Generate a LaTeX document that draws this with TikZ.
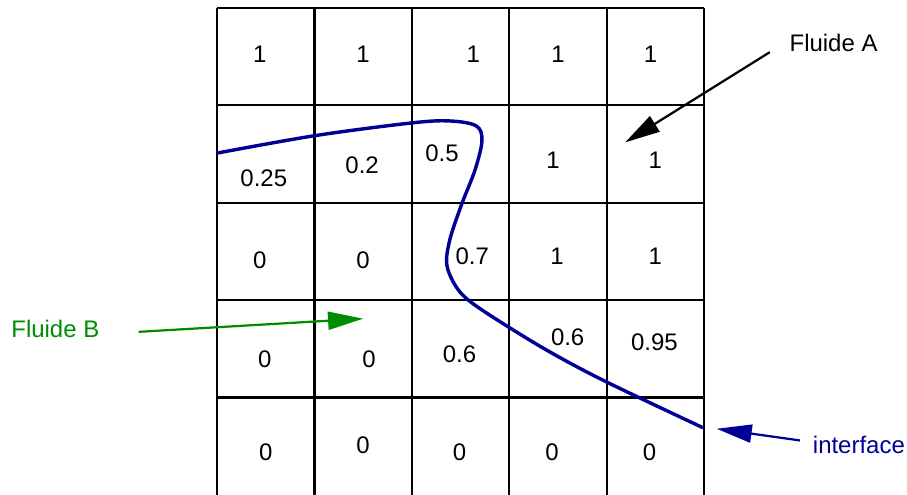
\documentclass[tikz,border=0pt]{standalone}
\usepackage{fontspec}
\setmainfont{Liberation Sans}
\usepackage{tikz}
\usetikzlibrary{arrows.meta,positioning,calc}
\definecolor{fluidgreen}{RGB}{0,140,0}
\definecolor{ifblue}{RGB}{0,0,150}

\begin{document}
\begin{tikzpicture}[>={Triangle[length=7.2mm,width=3.7mm]}, x=2cm, y=2cm]
  \tikzstyle{val}=[inner sep=0pt, font=\fontsize{14}{17}\selectfont]
  \tikzstyle{lbl}=[inner sep=0pt, font=\fontsize{14}{17}\selectfont]
  \tikzstyle{gridline}=[line width=1.3pt]
  \tikzstyle{pointer}=[->, line width=1.3pt]
  \useasboundingbox (-2.228,0) rectangle (7.084,5.082);

  % maillage 5x5
  \foreach \k in {0,...,5} \draw[gridline] (\k,0) -- (\k,5);
  \foreach \k in {1,...,5} \draw[gridline] (0,\k) -- (5,\k);

  % fractions volumiques
  \foreach \x/\y/\v [count=\i] in {
      0.44/4.52/1, 1.50/4.52/1, 2.63/4.52/1, 3.50/4.52/1, 4.45/4.52/1,
      0.48/3.25/0.25, 1.49/3.39/0.2, 2.31/3.51/0.5, 3.45/3.44/1, 4.50/3.44/1,
      0.44/2.41/0, 1.50/2.41/0, 2.62/2.45/0.7, 3.49/2.45/1, 4.50/2.45/1,
      0.49/1.39/0, 1.56/1.39/0, 2.49/1.45/0.6, 3.60/1.62/0.6, 4.49/1.57/0.95,
      0.50/0.44/0, 1.50/0.51/0, 2.49/0.44/0, 3.44/0.44/0, 4.44/0.44/0}
    \node[val] (c\i) at (\x,\y) {\v};

  % interface
  \draw[ifblue, line width=2pt] plot[smooth, tension=0.55] coordinates {
      (0,3.51) (1.01,3.69) (2.00,3.82) (2.39,3.84) (2.66,3.79) (2.72,3.64)
      (2.65,3.34) (2.51,2.98) (2.39,2.62) (2.36,2.36) (2.46,2.13) (2.62,1.97)
      (3.00,1.72) (3.45,1.45) (4.00,1.16) (4.99,0.69)};

  % legendes
  \node[lbl] (fa) at (6.33,4.64) {Fluide A};
  \node[lbl, text=fluidgreen] (fb) at (-1.66,1.70) {Fluide B};
  \node[lbl, text=ifblue] (intf) at (6.59,0.51) {interface};
  \coordinate (ta) at (4.19,3.62);
  \coordinate (tb) at (1.50,1.81);
  \coordinate (ti) at (5.13,0.68);
  \draw[pointer] ([xshift=-4mm]fa.south west) -- (ta);
  \draw[pointer, fluidgreen] ([xshift=8mm,yshift=-0.5mm]fb.east) -- (tb);
  \draw[pointer, ifblue] ([xshift=-2.6mm,yshift=1mm]intf.west) -- (ti);
\end{tikzpicture}
\end{document}
